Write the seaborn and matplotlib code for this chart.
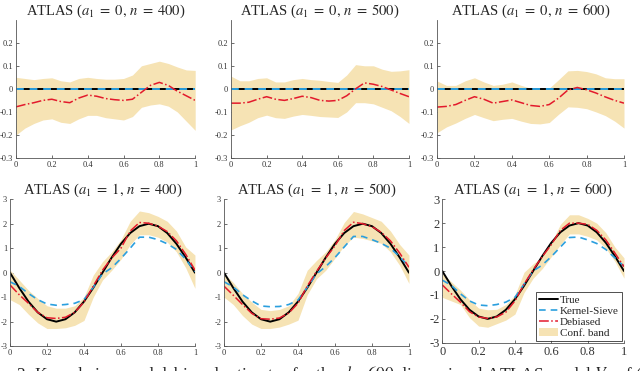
import numpy as np
import seaborn as sns
import matplotlib.pyplot as plt

sns.set_style("ticks")
plt.rcParams["font.family"] = ["Liberation Serif", "DejaVu Serif"]
plt.rcParams["mathtext.fontset"] = "stix"

x_grid = np.linspace(0, 1, 21)
sizes = [400, 500, 600]

# top row (a1 = 0): truth and kernel-sieve are flat at zero
zero_true = [0.0] * 21
zero_ks = [0.0] * 21
top_deb = [
    [-0.078, -0.068, -0.06, -0.05, -0.045, -0.055, -0.06, -0.04, -0.027, -0.032, -0.042,
     -0.047, -0.05, -0.045, -0.015, 0.015, 0.028, 0.015, -0.01, -0.03, -0.05],
    [-0.062, -0.062, -0.058, -0.045, -0.034, -0.045, -0.05, -0.042, -0.032, -0.038, -0.05,
     -0.053, -0.05, -0.03, 0.0, 0.026, 0.02, 0.01, -0.005, -0.02, -0.034],
    [-0.079, -0.076, -0.068, -0.05, -0.034, -0.045, -0.062, -0.055, -0.048, -0.06, -0.072,
     -0.076, -0.068, -0.04, -0.005, 0.006, -0.004, -0.018, -0.035, -0.05, -0.062],
]
top_up = [
    [0.05, 0.045, 0.04, 0.045, 0.048, 0.035, 0.03, 0.045, 0.05, 0.045, 0.042,
     0.042, 0.045, 0.06, 0.1, 0.11, 0.12, 0.11, 0.095, 0.082, 0.08],
    [0.055, 0.035, 0.035, 0.045, 0.048, 0.03, 0.03, 0.04, 0.045, 0.04, 0.037,
     0.032, 0.028, 0.06, 0.105, 0.1, 0.1, 0.085, 0.076, 0.078, 0.083],
    [0.034, 0.015, 0.015, 0.035, 0.048, 0.03, 0.015, 0.02, 0.03, 0.015, 0.003,
     0.003, 0.003, 0.04, 0.078, 0.08, 0.075, 0.065, 0.048, 0.044, 0.044],
]
top_lo = [
    [-0.2, -0.17, -0.15, -0.135, -0.13, -0.145, -0.15, -0.13, -0.115, -0.115, -0.125,
     -0.13, -0.135, -0.12, -0.08, -0.07, -0.065, -0.075, -0.1, -0.14, -0.18],
    [-0.178, -0.16, -0.145, -0.125, -0.114, -0.125, -0.128, -0.118, -0.111, -0.115, -0.12,
     -0.122, -0.124, -0.1, -0.06, -0.06, -0.065, -0.08, -0.095, -0.12, -0.15],
    [-0.19, -0.165, -0.148, -0.128, -0.111, -0.125, -0.138, -0.132, -0.128, -0.14, -0.15,
     -0.152, -0.146, -0.11, -0.078, -0.08, -0.086, -0.1, -0.116, -0.14, -0.17],
]

# bottom row (a1 = 1)
sine_true = [0.0, -0.62, -1.18, -1.62, -1.90, -2.0, -1.90, -1.62, -1.18, -0.62, 0.0,
             0.62, 1.18, 1.62, 1.90, 2.0, 1.90, 1.62, 1.18, 0.62, 0.0]
bot_ks = [
    [-0.37, -0.56, -0.85, -1.10, -1.28, -1.33, -1.30, -1.25, -1.10, -0.60, -0.05,
     0.20, 0.58, 1.00, 1.45, 1.45, 1.35, 1.18, 0.95, 0.55, 0.04],
    [-0.37, -0.58, -0.90, -1.15, -1.36, -1.39, -1.38, -1.30, -1.12, -0.60, -0.05,
     0.25, 0.62, 1.05, 1.48, 1.48, 1.35, 1.20, 1.00, 0.65, 0.25],
    [-0.38, -0.60, -0.95, -1.25, -1.42, -1.45, -1.40, -1.30, -1.10, -0.55, 0.0,
     0.25, 0.60, 1.00, 1.40, 1.42, 1.30, 1.15, 0.90, 0.55, 0.20],
]
bot_deb = [
    [-0.50, -0.90, -1.25, -1.62, -1.84, -1.87, -1.82, -1.62, -1.20, -0.55, 0.10,
     0.60, 1.00, 1.70, 2.05, 2.02, 1.90, 1.68, 1.30, 0.75, 0.11],
    [-0.55, -0.92, -1.30, -1.66, -1.88, -1.90, -1.85, -1.65, -1.25, -0.55, 0.05,
     0.60, 1.10, 1.72, 2.06, 2.00, 1.88, 1.65, 1.30, 0.80, 0.22],
    [-0.58, -0.95, -1.30, -1.70, -1.92, -1.98, -1.92, -1.72, -1.25, -0.55, 0.05,
     0.60, 1.10, 1.70, 2.00, 2.00, 1.95, 1.70, 1.30, 0.75, 0.18],
]
bot_up = [
    [0.11, -0.30, -0.72, -1.05, -1.35, -1.45, -1.45, -1.35, -1.00, -0.10, 0.45,
     0.85, 1.35, 2.10, 2.52, 2.45, 2.30, 2.10, 1.70, 1.05, 0.72],
    [-0.03, -0.40, -0.85, -1.20, -1.50, -1.55, -1.50, -1.35, -0.85, 0.10, 0.50,
     0.85, 1.35, 2.05, 2.50, 2.40, 2.25, 2.10, 1.70, 1.15, 0.72],
    [-0.10, -0.45, -0.80, -1.20, -1.55, -1.62, -1.60, -1.40, -1.00, -0.05, 0.30,
     0.60, 1.20, 1.95, 2.35, 2.35, 2.20, 2.00, 1.60, 1.00, 0.55],
]
bot_lo = [
    [-1.10, -1.30, -1.70, -2.05, -2.28, -2.28, -2.25, -2.15, -1.95, -1.00, -0.30,
     0.10, 0.55, 1.15, 1.55, 1.55, 1.45, 1.25, 0.85, 0.20, -0.64],
    [-1.00, -1.30, -1.75, -2.10, -2.28, -2.28, -2.22, -2.10, -1.94, -0.90, -0.25,
     0.10, 0.60, 1.10, 1.45, 1.40, 1.30, 1.20, 0.85, 0.30, -0.44],
    [-1.10, -1.25, -1.40, -1.95, -2.30, -2.35, -2.20, -2.05, -1.80, -0.90, -0.30,
     0.10, 0.60, 1.10, 1.55, 1.55, 1.45, 1.30, 0.95, 0.40, -0.30],
]

band_c = "#f6e3b4"
red_c = "#e31a2c"
blue_c = "#2b9fde"
axis_c = "#555555"

fig = plt.figure(figsize=(6.4, 3.71), dpi=100)
top_pos = [[0.025, 0.574, 0.280, 0.373], [0.361, 0.574, 0.278, 0.373], [0.683, 0.574, 0.292, 0.373]]
bot_pos = [[0.0156, 0.067, 0.289, 0.396], [0.35, 0.067, 0.289, 0.396], [0.691, 0.076, 0.284, 0.387]]


def style_axes(ax, ylim, yticks, fs):
    ax.set_xlim(0, 1)
    ax.set_ylim(*ylim)
    ax.set_xticks([0, 0.2, 0.4, 0.6, 0.8, 1])
    ax.set_xticklabels(["0", "0.2", "0.4", "0.6", "0.8", "1"])
    ax.set_yticks(yticks)
    ax.set_yticklabels([("%g" % t) for t in yticks])
    ax.tick_params(direction="in", length=2.5, width=0.6, labelsize=fs,
                   colors=axis_c, pad=2, labelcolor="#333333")
    for s in ["top", "right"]:
        ax.spines[s].set_visible(False)
    for s in ["left", "bottom"]:
        ax.spines[s].set_color(axis_c)
        ax.spines[s].set_linewidth(0.6)
    ax.set_xlabel("")
    ax.set_ylabel("")


def title_text(a, n):
    return "ATLAS ($a_1\\;=\\;%d,\\,n\\;=\\;%d$)" % (a, n)


for i, n in enumerate(sizes):
    ax = fig.add_axes(top_pos[i])
    ax.fill_between(x_grid, top_lo[i], top_up[i], color=band_c, lw=0)
    sns.lineplot(x=x_grid, y=zero_true, ax=ax, color="black", lw=1.4)
    sns.lineplot(x=x_grid, y=zero_ks, ax=ax, color=blue_c, lw=1.4, linestyle=(0, (4, 3)))
    sns.lineplot(x=x_grid, y=top_deb[i], ax=ax, color=red_c, lw=1.1, linestyle="-.")
    style_axes(ax, (-0.3, 0.3), [-0.3, -0.2, -0.1, 0, 0.1, 0.2], 6)
    ax.set_title(title_text(0, n), fontsize=10.5, pad=1)

for i, n in enumerate(sizes):
    ax = fig.add_axes(bot_pos[i])
    ax.fill_between(x_grid, bot_lo[i], bot_up[i], color=band_c, lw=0, label="Conf. band")
    sns.lineplot(x=x_grid, y=sine_true, ax=ax, color="black", lw=1.4, label="True")
    sns.lineplot(x=x_grid, y=bot_ks[i], ax=ax, color=blue_c, lw=1.2,
                 linestyle=(0, (4, 3)), label="Kernel-Sieve")
    sns.lineplot(x=x_grid, y=bot_deb[i], ax=ax, color=red_c, lw=1.1,
                 linestyle="-.", label="Debiased")
    fs = 9 if i == 2 else 6
    style_axes(ax, (-3, 3), [-3, -2, -1, 0, 1, 2, 3], fs)
    ax.set_title(title_text(1, n), fontsize=10.5, pad=3)
    if i == 2:
        h, l = ax.get_legend_handles_labels()
        order = [l.index(k) for k in ["True", "Kernel-Sieve", "Debiased", "Conf. band"]]
        leg = ax.legend([h[k] for k in order], [l[k] for k in order], loc="lower right",
                        fontsize=8, frameon=True, fancybox=False, borderpad=0.3,
                        handlelength=1.7, handletextpad=0.2, labelspacing=0.1,
                        borderaxespad=0.15)
        leg.get_frame().set_edgecolor("black")
        leg.get_frame().set_linewidth(0.6)
    else:
        ax.get_legend().remove()

fig.text(-0.002, -0.035, "re 3: Kernel-sieve and debiased estimates for the $d = 600$ dimensional ATLAS model $V_1$ of $(X$",
         fontsize=12.5, ha="left", va="bottom")

fig.savefig("out.png", dpi=100)
